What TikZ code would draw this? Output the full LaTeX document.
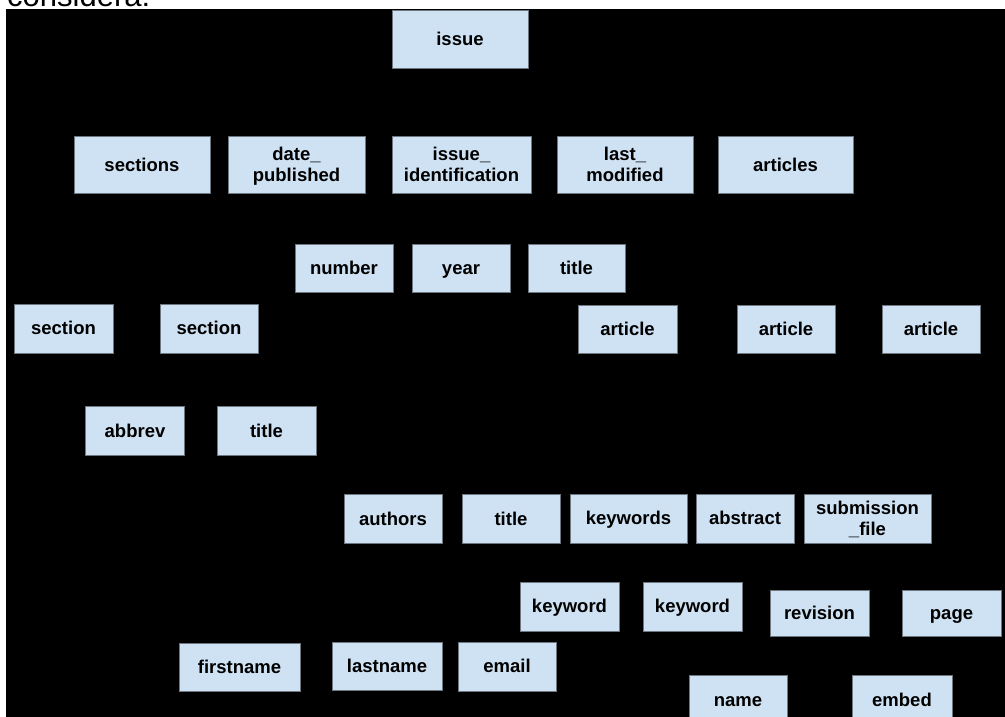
\documentclass[tikz,border=0pt]{standalone}
\usepackage{fontspec}
\setmainfont{Liberation Sans}
\usepackage{tikz}
\definecolor{boxfill}{RGB}{207,226,243}
\definecolor{boxline}{RGB}{110,118,128}
\newcommand{\linestrut}{\rule[-3.9pt]{0pt}{20.6pt}}

\begin{document}
\begin{tikzpicture}[x=1pt,y=-1pt]
    \tikzset{field/.style = {rectangle, draw=boxline, fill=boxfill, inner sep=0pt, align=center,
        minimum width=98pt, minimum height=48pt, text height=16.7pt, text depth=3.9pt,
        font=\fontsize{18.5}{21}\selectfont\bfseries}}
    \tikzset{twoline/.style = {text height={}, text depth={}}}
    \fill[white] (0,0) rectangle (1005,717);
    \fill[black] (6,9) rectangle (1005,717);
    \useasboundingbox (0,0) rectangle (1005,717);
    \node[anchor=base west, inner sep=0pt, font=\fontsize{31}{31}\selectfont] (caption) at (7,6.5) {considera:};
    % top level
    \node[field, minimum width=136pt, minimum height=58pt] (issue) at (460,39) {issue};
    \node[field, minimum width=136pt, minimum height=57pt] (sections) at (142,165) {sections};
    \node[field, twoline, minimum width=137pt, minimum height=57pt] (datepub) at (296.5,165) {\linestrut date\_\\\linestrut published};
    \node[field, twoline, minimum width=139pt, minimum height=57pt] (issueid) at (461.5,165) {\linestrut issue\_\\\linestrut identification};
    \node[field, twoline, minimum width=136pt, minimum height=57pt] (lastmod) at (625,165) {\linestrut last\_\\\linestrut modified};
    \node[field, minimum width=135pt, minimum height=57pt] (articles) at (785.5,165) {articles};
    % issue identification
    \node[field] (number) at (344,268) {number};
    \node[field] (year) at (461,268) {year};
    \node[field, minimum width=97pt] (issuetitle) at (576.5,268) {title};
    % sections and articles
    \node[field, minimum width=99pt, minimum height=49pt] (sectionA) at (63.5,328.5) {section};
    \node[field, minimum height=49pt] (sectionB) at (209,328.5) {section};
    \node[field, minimum width=99pt] (articleA) at (627.5,329) {article};
    \node[field] (articleB) at (786,329) {article};
    \node[field] (articleC) at (931,329) {article};
    % section fields
    \node[field, minimum width=99pt, minimum height=49pt] (abbrev) at (135,431) {abbrev};
    \node[field, minimum width=99pt, minimum height=49pt] (sectiontitle) at (266.5,431) {title};
    % article fields
    \node[field, minimum height=49pt] (authors) at (393,519) {authors};
    \node[field, minimum height=49pt] (articletitle) at (511,519) {title};
    \node[field, minimum width=117pt, minimum height=49pt] (keywords) at (628.5,518.5) {keywords};
    \node[field, minimum height=49pt] (abstract) at (745,518.5) {abstract};
    \node[field, twoline, minimum width=127pt, minimum height=49pt] (subfile) at (867.5,518.5) {\linestrut submission\\\linestrut\_file};
    % lower levels
    \node[field, minimum width=99pt, minimum height=49pt] (keywordA) at (569.5,606.5) {keyword};
    \node[field, minimum width=99pt, minimum height=49pt] (keywordB) at (692.5,606.5) {keyword};
    \node[field, minimum width=99pt, minimum height=46pt] (revision) at (819.5,613) {revision};
    \node[field, minimum width=99pt, minimum height=46pt] (page) at (951.5,613) {page};
    \node[field, minimum width=121pt] (firstname) at (239.5,667) {firstname};
    \node[field, minimum width=110pt] (lastname) at (387,666) {lastname};
    \node[field, minimum height=49pt] (email) at (507,666.5) {email};
    \node[field, minimum height=50pt] (name) at (738,700) {name};
    \node[field, minimum width=100pt, minimum height=50pt] (embed) at (902,700) {embed};
  \end{tikzpicture}
\end{document}
